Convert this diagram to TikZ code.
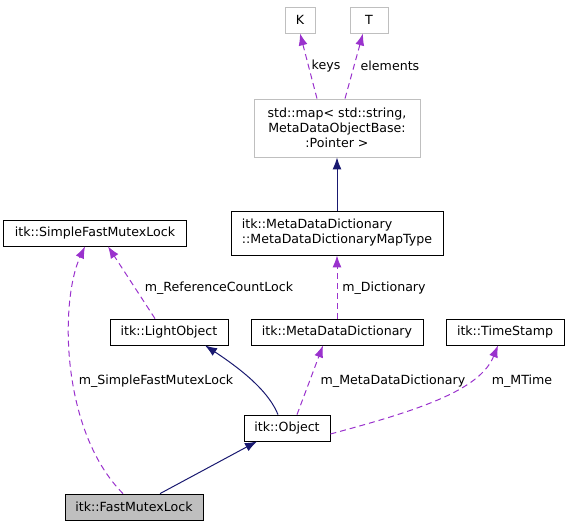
\documentclass[tikz,border=0pt]{standalone}
\usepackage{fontspec}
\setmainfont{DejaVu Sans}
\usetikzlibrary{arrows.meta}
\definecolor{navy}{HTML}{191970}
\definecolor{orchid}{HTML}{9A32CD}
\definecolor{boxgrey}{HTML}{BFBFBF}
\begin{document}
\begin{tikzpicture}[
    x=1pt, y=-1pt,
    font=\fontsize{12.6}{15}\selectfont,
    klasse/.style={rectangle, draw, line width=0.8pt, minimum height=26pt, inner xsep=4pt, inner ysep=2pt, align=center},
    extern/.style={klasse, draw=boxgrey},
    member/.style={-{Latex[length=12pt,width=9pt]}, dash pattern=on 6pt off 4pt, color=orchid, line width=1pt},
    erbt/.style={-{Latex[length=12pt,width=9pt]}, color=navy, line width=1pt}
]
    \useasboundingbox (0,0) rectangle (569,528);

    % Klassen
    \node[extern, minimum width=30pt] (k) at (300,20) {K};
    \node[extern, minimum width=38pt] (t) at (369,20) {T};
    \node[extern, minimum width=166pt, minimum height=58pt] (map) at (337,128) {std::map< std::string,\\ MetaDataObjectBase:\\ :Pointer >};
    \node[klasse, minimum width=212pt, minimum height=44pt, align=left] (maptype) at (337,233) {itk::MetaDataDictionary\\::MetaDataDictionaryMapType};
    \node[klasse, minimum width=183pt] (sfml) at (95,233) {itk::SimpleFastMutexLock};
    \node[klasse, minimum width=118pt] (light) at (169,332) {itk::LightObject};
    \node[klasse, minimum width=172pt] (mdd) at (337,332) {itk::MetaDataDictionary};
    \node[klasse, minimum width=118pt] (stamp) at (505,332) {itk::TimeStamp};
    \node[klasse, minimum width=86pt] (obj) at (287,428) {itk::Object};
    \node[klasse, minimum width=138pt, fill=boxgrey] (fml) at (134,507) {itk::FastMutexLock};

    % Vererbung
    \draw[erbt] (maptype.north) -- (map.south);
    \draw[erbt] ([xshift=-9pt]obj.north) .. controls (270,395) and (250,375) .. ([xshift=36pt]light.south);
    \draw[erbt] ([xshift=26pt]fml.north) -- ([xshift=-30pt]obj.south);

    % Member
    \draw[member] ([xshift=-20pt]map.north) -- (k.south);
    \draw[member] ([xshift=8pt]map.north) -- ([xshift=-6pt]t.south);
    \draw[member] (mdd.north) -- (maptype.south);
    \draw[member] ([xshift=-14pt]light.north) -- ([xshift=13pt]sfml.south);
    \draw[member] ([xshift=-11pt]fml.north) .. controls (60,430) and (60,300) .. ([xshift=-10pt]sfml.south);
    \draw[member] ([xshift=10pt]obj.north) -- ([xshift=-14pt]mdd.south);
    \draw[member] ([yshift=-6pt]obj.east) .. controls (420,410) and (480,390) .. ([xshift=-7pt]stamp.south);

    % Beschriftungen
    \node (lkeys) at (326,66) {keys};
    \node (lelem) at (390,66) {elements};
    \node (ldict) at (384,288) {m\_Dictionary};
    \node (lref) at (219,288) {m\_ReferenceCountLock};
    \node (lsfml) at (156,381) {m\_SimpleFastMutexLock};
    \node (lmdd) at (393,381) {m\_MetaDataDictionary};
    \node (lmtime) at (522,381) {m\_MTime};
\end{tikzpicture}
\end{document}
